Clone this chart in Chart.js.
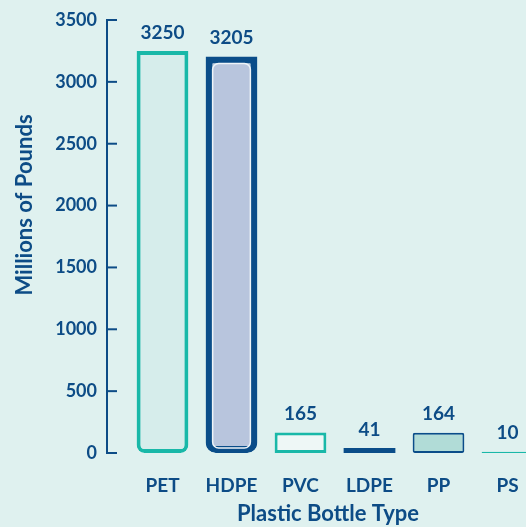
<!DOCTYPE html>
<html>
<head>
<meta charset="utf-8">
<script src="https://cdn.jsdelivr.net/npm/chart.js@4/dist/chart.umd.min.js"></script>
<style>
  html, body { margin: 0; padding: 0; background: #dff1ef; overflow: hidden; }
  #wrap { width: 550px; height: 527px; }
</style>
</head>
<body>
<div id="wrap"><canvas id="bottles"></canvas></div>
<script>
const categories = ['PET', 'HDPE', 'PVC', 'LDPE', 'PP', 'PS'];
const pounds = [3250, 3205, 165, 41, 164, 10];
const yTicks = [0, 500, 1000, 1500, 2000, 2500, 3000, 3500];

const ink = '#0d4c86';
const teal = '#19b8a8';
const navy = '#0a4d89';
const font = 'Lato, "Open Sans", sans-serif';

// hand drawn axis line + inward ticks, value labels, titles
const decor = {
  id: 'decor',
  afterDatasetsDraw(chart) {
    const ctx = chart.ctx;
    const y = chart.scales.y;
    const axisX = 107;

    ctx.save();
    ctx.strokeStyle = ink;
    ctx.lineWidth = 2;
    ctx.beginPath();
    ctx.moveTo(axisX, y.getPixelForValue(3500));
    ctx.lineTo(axisX, y.getPixelForValue(0));
    ctx.stroke();
    yTicks.forEach(v => {
      const py = y.getPixelForValue(v);
      ctx.beginPath();
      ctx.moveTo(axisX - 1, py);
      ctx.lineTo(axisX + 10, py);
      ctx.stroke();
    });

    const bars = chart.getDatasetMeta(0).data;

    // white inner edge on the HDPE bottle
    const h = bars[1];
    ctx.strokeStyle = '#eef4f8';
    ctx.lineWidth = 1.5;
    ctx.beginPath();
    ctx.roundRect(h.x - h.width / 2 + 7, h.y + 7, h.width - 14, h.base - h.y - 12, 6);
    ctx.stroke();

    ctx.fillStyle = ink;
    ctx.font = 'bold 19px ' + font;
    ctx.textAlign = 'center';
    ctx.textBaseline = 'bottom';
    bars.forEach((b, i) => {
      ctx.fillText(String(pounds[i]), b.x, b.y - 9);
    });

    ctx.font = 'bold 22px ' + font;
    ctx.textBaseline = 'middle';
    ctx.fillText('Plastic Bottle Type', 328, 514);

    ctx.translate(25, 205);
    ctx.rotate(-Math.PI / 2);
    ctx.fillText('Millions of Pounds', 0, 0);
    ctx.restore();
  }
};

new Chart(document.getElementById('bottles'), {
  type: 'bar',
  data: {
    labels: categories,
    datasets: [{
      data: pounds,
      backgroundColor: ['#d6edeb', '#b8c5dd', '#eef7f6', navy, '#b1dcd7', teal],
      borderColor: [teal, navy, teal, navy, navy, teal],
      borderWidth: [4, 7, 3, 0, 2, 1],
      borderRadius: [{bottomLeft: 8, bottomRight: 8}, {bottomLeft: 10, bottomRight: 10}, 0, 0, 2, 0],
      borderSkipped: false,
      barPercentage: 1,
      categoryPercentage: 0.75
    }]
  },
  options: {
    responsive: true,
    maintainAspectRatio: false,
    animation: false,
    layout: { padding: { top: 20, right: 8, left: 0, bottom: 0 } },
    plugins: {
      legend: { display: false },
      tooltip: { enabled: false }
    },
    scales: {
      x: {
        grid: { display: false },
        border: { display: false },
        ticks: {
          color: ink,
          padding: 13,
          font: { family: font, size: 19, weight: 'bold' }
        },
        afterFit: s => { s.height = 74; }
      },
      y: {
        min: 0,
        max: 3500,
        grid: { display: false },
        border: { display: false },
        afterBuildTicks: s => { s.ticks = yTicks.map(v => ({ value: v })); },
        ticks: {
          color: ink,
          padding: 23,
          callback: v => String(v),
          font: { family: font, size: 18, weight: 'bold' }
        },
        afterFit: s => { s.width = 128; s.paddingTop = 0; s.paddingBottom = 0; }
      }
    }
  },
  plugins: [decor]
});
</script>
</body>
</html>
